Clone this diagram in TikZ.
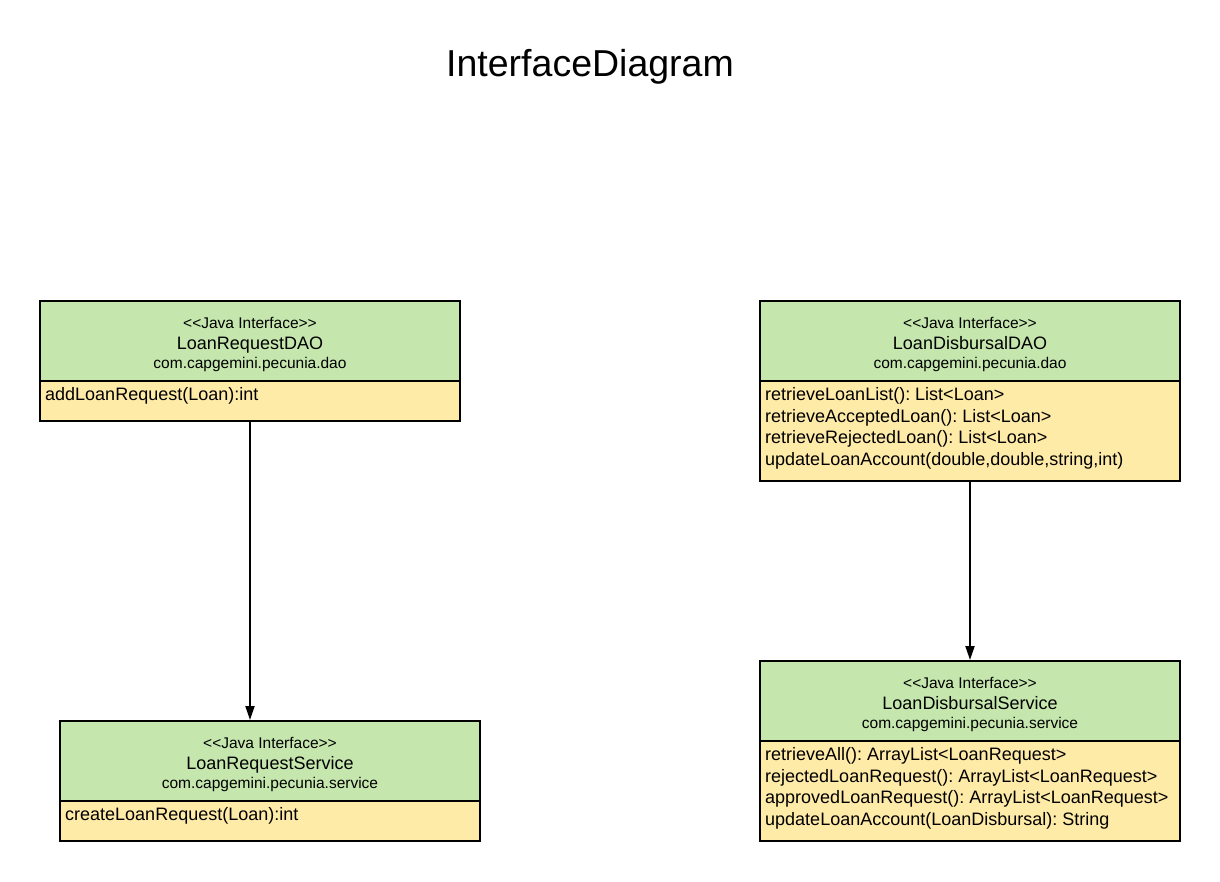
\documentclass[tikz,border=0pt]{standalone}
\usepackage{fontspec}
\setmainfont{Liberation Sans}
\usetikzlibrary{arrows.meta}
\frenchspacing
\definecolor{hdrgreen}{HTML}{C5E6AD}
\definecolor{bodyyellow}{HTML}{FFEBA8}
\newcommand{\stereo}{<\kern0pt<Java Interface>\kern0pt>}
\tikzset{
  hdr/.style={draw=black, line width=2pt, fill=hdrgreen, minimum width=420pt, inner sep=0pt},
  bdy/.style={draw=black, line width=2pt, fill=bodyyellow, minimum width=420pt, inner sep=0pt},
  small/.style={font=\fontsize{15.5}{18}\selectfont, inner sep=0pt, anchor=base},
  big/.style={font=\fontsize{18}{21}\selectfont, inner sep=0pt, anchor=base},
  meth/.style={font=\fontsize{18}{21}\selectfont, inner sep=0pt, anchor=base west},
  conn/.style={line width=2pt, -{Triangle[length=14pt,width=9pt]}},
  ttl/.style={font=\fontsize{37.5}{44}\selectfont, inner sep=0pt, anchor=base}
}
\begin{document}
\begin{tikzpicture}[x=1pt,y=-1pt]
\useasboundingbox (0,0) rectangle (1220,881);
\fill[white] (0,0) rectangle (1220,881);

\node[ttl] (title) at (590,76) {InterfaceDiagram};

% LoanRequestDAO
\node[hdr, minimum height=80pt] (Ah) at (250,341) {};
\node[bdy, minimum height=40pt] (Ab) at (250,401) {};
\node[small] (As) at (250,328.5) {\stereo};
\node[big] (An) at (250,349.5) {LoanRequestDAO};
\node[small] (Ap) at (250,368) {com.capgemini.pecunia.dao};
\node[meth] (Am1) at (45,400.5) {addLoanRequest(Loan):int};

% LoanRequestService
\node[hdr, minimum height=80pt] (Bh) at (270,761) {};
\node[bdy, minimum height=40pt] (Bb) at (270,821) {};
\node[small] (Bs) at (270,748.5) {\stereo};
\node[big] (Bn) at (270,769.5) {LoanRequestService};
\node[small] (Bp) at (270,788) {com.capgemini.pecunia.service};
\node[meth] (Bm1) at (65,820.5) {createLoanRequest(Loan):int};

% LoanDisbursalDAO
\node[hdr, minimum height=80pt] (Ch) at (970,341) {};
\node[bdy, minimum height=100pt] (Cb) at (970,431) {};
\node[small] (Cs) at (970,328.5) {\stereo};
\node[big] (Cn) at (970,349.5) {LoanDisbursalDAO};
\node[small] (Cp) at (970,368) {com.capgemini.pecunia.dao};
\node[meth] (Cm1) at (765,400.5) {retrieveLoanList(): List<Loan>};
\node[meth] (Cm2) at (765,422) {retrieveAcceptedLoan(): List<Loan>};
\node[meth] (Cm3) at (765,443.5) {retrieveRejectedLoan(): List<Loan>};
\node[meth] (Cm4) at (765,465) {updateLoanAccount(double,double,string,int)};

% LoanDisbursalService
\node[hdr, minimum height=80pt] (Dh) at (970,701) {};
\node[bdy, minimum height=100pt] (Db) at (970,791) {};
\node[small] (Ds) at (970,688.5) {\stereo};
\node[big] (Dn) at (970,709.5) {LoanDisbursalService};
\node[small] (Dp) at (970,728) {com.capgemini.pecunia.service};
\node[meth] (Dm1) at (765,760.5) {retrieveAll(): ArrayList<LoanRequest>};
\node[meth] (Dm2) at (765,782) {rejectedLoanRequest(): ArrayList<LoanRequest>};
\node[meth] (Dm3) at (765,803.5) {approvedLoanRequest(): ArrayList<LoanRequest>};
\node[meth] (Dm4) at (765,825) {updateLoanAccount(LoanDisbursal): String};

% connectors
\draw[conn] (Ab.south) -- (Ab.south |- Bh.north);
\draw[conn] (Cb.south) -- (Dh.north);
\end{tikzpicture}
\end{document}
